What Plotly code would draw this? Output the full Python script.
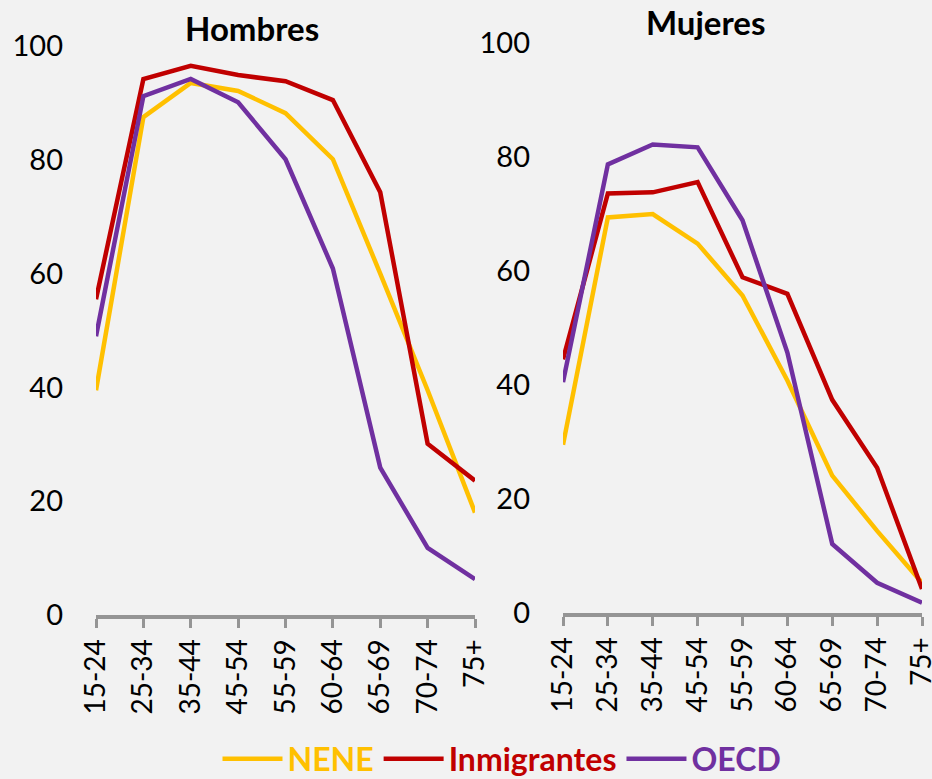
import plotly.graph_objects as go

categories = ["15-24", "25-34", "35-44", "45-54", "55-59", "60-64", "65-69", "70-74", "75+"]

hombres_nene = [39.5, 87.5, 93.5, 92.1, 88.2, 80.1, 60.0, 39.5, 18.0]
hombres_inmigrantes = [55.5, 94.2, 96.5, 94.9, 93.8, 90.5, 74.3, 30.1, 23.6]
hombres_oecd = [49.0, 91.2, 94.2, 90.1, 80.1, 60.9, 25.9, 11.8, 6.3]

mujeres_nene = [29.5, 69.4, 70.0, 64.8, 55.7, 40.8, 24.1, 14.4, 5.3]
mujeres_inmigrantes = [44.5, 73.6, 73.8, 75.6, 58.9, 56.0, 37.4, 25.5, 4.2]
mujeres_oecd = [40.5, 78.7, 82.2, 81.7, 68.9, 45.7, 12.1, 5.3, 1.8]

series_names = ["NENE", "Inmigrantes", "OECD"]
colors = ["#FFC000", "#C00000", "#7030A0"]
titles = ["Hombres", "Mujeres"]

FONT = "Lato"
W, H = 932, 779

fig = go.Figure()

panels = [
    (hombres_nene, hombres_inmigrantes, hombres_oecd),
    (mujeres_nene, mujeres_inmigrantes, mujeres_oecd),
]

for p, data in enumerate(panels):
    xa = "x" if p == 0 else "x2"
    ya = "y" if p == 0 else "y2"
    for i, vals in enumerate(data):
        fig.add_trace(go.Scatter(
            x=categories, y=vals, mode="lines",
            line=dict(color=colors[i], width=4.5),
            name=f"<b><span style='color:{colors[i]}'>{series_names[i]}</span></b>",
            showlegend=(p == 0),
            xaxis=xa, yaxis=ya,
        ))

# pixel geometry
left_x = (96 / W, 475 / W)
right_x = (563 / W, 922 / W)
left_y = ((H - 615) / H, (H - 46) / H)
right_y = ((H - 613) / H, (H - 43) / H)

xcommon = dict(
    type="category", range=[0, 8], showgrid=False, zeroline=False,
    showline=True, linecolor="#959595", linewidth=4,
    ticks="outside", tickcolor="#959595", tickwidth=3, ticklen=9,
    tickangle=-90, tickfont=dict(family=FONT, size=28, color="#000000"),
    automargin=False,
)
ycommon = dict(
    range=[0, 100], dtick=20, showgrid=False, zeroline=False, showline=False,
    ticks="", ticklabelstandoff=32, automargin=False,
    tickfont=dict(family=FONT, size=29, color="#000000"),
)

fig.update_layout(
    width=W, height=H,
    paper_bgcolor="#F2F2F2", plot_bgcolor="#F2F2F2",
    margin=dict(l=0, r=0, t=0, b=0, autoexpand=False),
    xaxis=dict(domain=left_x, anchor="y", **xcommon),
    yaxis=dict(domain=left_y, anchor="x", **ycommon),
    xaxis2=dict(domain=right_x, anchor="y2", **xcommon),
    yaxis2=dict(domain=right_y, anchor="x2", **ycommon),
    showlegend=True,
    legend=dict(
        orientation="h", x=502 / W, xanchor="center", y=(H - 759) / H, yanchor="middle",
        font=dict(family=FONT, size=32), bgcolor="rgba(0,0,0,0)",
        itemwidth=60, tracegroupgap=0,
    ),
    annotations=[
        dict(text=f"<b>{titles[0]}</b>", x=252 / W, y=(H - 28) / H, xref="paper", yref="paper",
             showarrow=False, font=dict(family=FONT, size=33, color="#000000"),
             xanchor="center", yanchor="middle"),
        dict(text=f"<b>{titles[1]}</b>", x=705 / W, y=(H - 22) / H, xref="paper", yref="paper",
             showarrow=False, font=dict(family=FONT, size=33, color="#000000"),
             xanchor="center", yanchor="middle"),
    ],
)

fig.write_html("out.html", config={"displayModeBar": False},
               post_script="document.body.style.margin='0';")
